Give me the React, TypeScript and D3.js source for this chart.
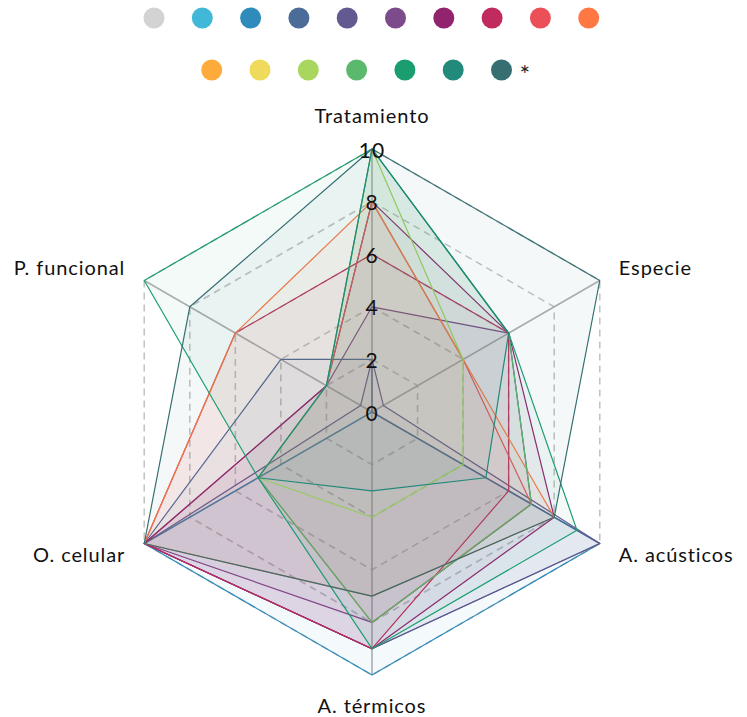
import React from "react";
import * as d3 from "d3";

// ---- data ----
const axisLabels = ["Tratamiento", "Especie", "A. acústicos", "A. térmicos", "O. celular", "P. funcional"];
const tickValues = [0, 2, 4, 6, 8, 10];
const gridLevels = [2, 4, 6, 8, 10];
const legendLabels = ["", "", "", "", "", "", "", "", "", "", "", "", "", "", "", "", "*"];
const seriesColors = [
  "#d3d3d3", "#42b8d8", "#2e8bbb", "#4b6b98", "#625a91", "#7d4a8b", "#92236f", "#c02a5e", "#eb5059",
  "#ff7844", "#ffab3c", "#efda5b", "#a8d65e", "#5ab96c", "#1a9e6f", "#218a7b", "#356f72",
];

// values in axis order: Tratamiento, Especie, A. acústicos, A. térmicos, O. celular, P. funcional
const serieGris = [0, 0, 0, 0, 0, 0];
const serieCeleste = [0, 0, 0, 0, 0, 0];
const serieAzul = [0, 0, 10, 10, 10, 0];
const serieAzulPizarra = [2, 0, 10, 9, 10, 4];
const serieMorado = [2, 0.5, 10, 9, 10, 0.5];
const serieVioleta = [4, 6, 7, 8, 10, 2];
const serieMagenta = [8, 6, 8, 9, 10, 2];
const serieCarmesi = [6, 6, 6, 9, 10, 6];
const serieRojo = [8, 4, 7, 8, 5, 2];
const serieNaranja = [8, 4, 8, 7, 10, 6];
const serieAmbar = [0, 0, 0, 0, 0, 0];
const serieAmarillo = [0, 0, 0, 0, 0, 0];
const serieVerdeClaro = [10, 4, 4, 4, 5, 2];
const serieVerde = [10, 6, 7, 8, 5, 2];
const serieEsmeralda = [10, 6, 9, 9, 5, 10];
const serieTurquesa = [10, 6, 5, 3, 5, 2];
const serieVerdeOscuro = [10, 10, 8, 7, 10, 8];

const seriesData = [
  serieGris, serieCeleste, serieAzul, serieAzulPizarra, serieMorado, serieVioleta, serieMagenta,
  serieCarmesi, serieRojo, serieNaranja, serieAmbar, serieAmarillo, serieVerdeClaro, serieVerde,
  serieEsmeralda, serieTurquesa, serieVerdeOscuro,
];

// ---- layout ----
const W = 747;
const H = 717;
const cx = 372;
const cy = 412;
const R = 263;
const FONT = "Lato, 'Noto Sans', sans-serif";

export default function App() {
  const r = d3.scaleLinear().domain([0, 10]).range([0, R]);
  const n = axisLabels.length;
  const angle = (i: number) => (i * 2 * Math.PI) / n;
  const radial = d3
    .lineRadial<number>()
    .angle((_, i) => angle(i))
    .radius((d) => r(d))
    .curve(d3.curveLinearClosed);
  const pt = (i: number, v: number) => [r(v) * Math.sin(angle(i)), -r(v) * Math.cos(angle(i))];

  const perRow = 10;
  const step = 48.3;
  const row1Start = 154;
  const row2Start = 211.7;

  return (
    <svg width={W} height={H} style={{ position: "absolute", left: 0, top: 0, display: "block" }} fontFamily={FONT}>
      <rect width={W} height={H} fill="#fff" />
      {/* legend */}
      {seriesColors.map((c, i) => {
        const row = i < perRow ? 0 : 1;
        const k = row === 0 ? i : i - perRow;
        const x = (row === 0 ? row1Start : row2Start) + k * step;
        const y = row === 0 ? 18 : 70;
        return (
          <g key={"lg" + i}>
            <circle cx={x} cy={y} r={10.5} fill={c} />
            {legendLabels[i] ? (
              <text x={x + 18} y={y + 14} fontSize={25} fill="#222">
                {legendLabels[i]}
              </text>
            ) : null}
          </g>
        );
      })}
      <g transform={`translate(${cx},${cy})`}>
        {/* grid */}
        {gridLevels.map((v) => (
          <path key={"g" + v} d={radial(axisLabels.map(() => v)) || ""} fill="none" stroke="#c4c4c4" strokeWidth={1.6} strokeDasharray="7 5" />
        ))}
        {axisLabels.map((_, i) => {
          const [x, y] = pt(i, 10);
          return <line key={"ax" + i} x1={0} y1={0} x2={x} y2={y} stroke="#b0b0b0" strokeWidth={1.6} />;
        })}
        {/* series */}
        {seriesData.map((vals, s) => (
          <path
            key={"s" + s}
            d={radial(vals) || ""}
            fill={seriesColors[s]}
            fillOpacity={0.05}
            stroke={seriesColors[s]}
            strokeWidth={1.2}
            strokeLinejoin="round"
          />
        ))}
        {/* tick labels */}
        {tickValues.map((v) => (
          <text key={"t" + v} x={0} y={-r(v)} textAnchor="middle" dominantBaseline="central" fontSize={21} fill="#111" letterSpacing={1}>
            {v}
          </text>
        ))}
        {/* axis labels */}
        {axisLabels.map((lab, i) => {
          const a = angle(i);
          const sx = Math.sin(a);
          const cy0 = -Math.cos(a);
          const side = Math.abs(sx) > 0.01;
          const lr = side ? R + 22 : R + 31;
          const x = lr * sx;
          const y = lr * cy0 + (cy0 < 0 ? -3 : -1);
          const anchor = !side ? "middle" : sx > 0 ? "start" : "end";
          return (
            <text key={"l" + i} x={x} y={y} textAnchor={anchor} dominantBaseline="central" fontSize={20} letterSpacing={0.9} fill="#111">
              {lab}
            </text>
          );
        })}
      </g>
    </svg>
  );
}
